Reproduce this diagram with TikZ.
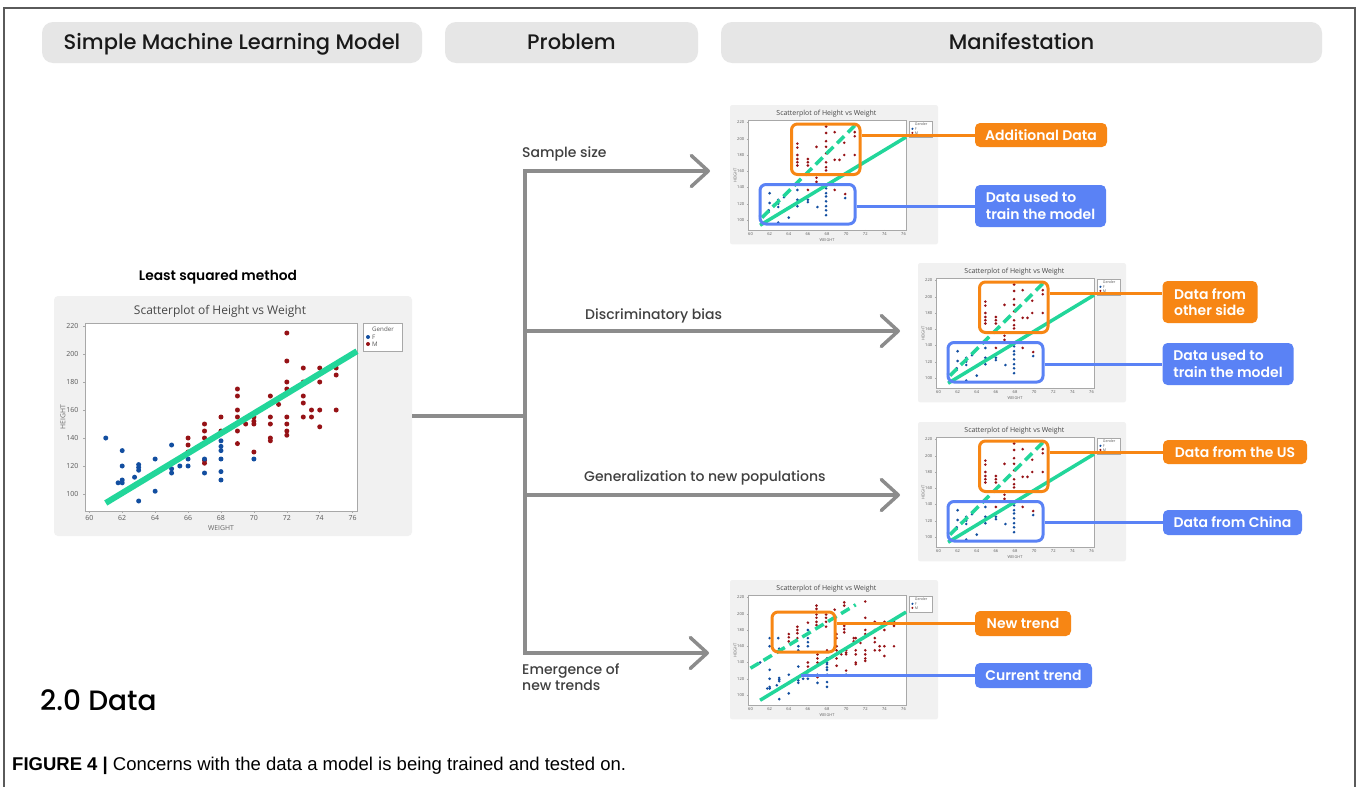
\documentclass[tikz,border=0pt]{standalone}
\usepackage{fontspec}
\usetikzlibrary{arrows.meta}
\setmainfont{Poppins}
\IfFontExistsTF{Poppins Medium}{\newfontfamily\medfont{Poppins Medium}}{\newfontfamily\medfont{Poppins}}
\IfFontExistsTF{Poppins SemiBold}{\newfontfamily\semifont{Poppins SemiBold}}{\newcommand\semifont{\bfseries}}
\newfontfamily\plotfont{Open Sans}
\newfontfamily\capfont{Liberation Sans}

\definecolor{hdrgray}{HTML}{E6E6E6}
\definecolor{framegray}{HTML}{5A5A5A}
\definecolor{conngray}{HTML}{8C8C8C}
\definecolor{fitgreen}{RGB}{34,214,154}
\definecolor{fblue}{RGB}{18,78,160}
\definecolor{mred}{RGB}{150,18,22}
\definecolor{hlorange}{RGB}{247,134,20}
\definecolor{hlblue}{RGB}{90,130,245}
\definecolor{panelgray}{HTML}{F1F1F1}
\definecolor{axisgray}{HTML}{A8A8A8}
\definecolor{txtgray}{HTML}{404040}

\tikzset{
  hdr/.style={fill=hdrgray, rounded corners=11pt, inner sep=0pt, text=black!90,
    text height=15.5pt, text depth=1pt,
    font=\medfont\fontsize{21}{24}\selectfont},
  probtxt/.style={text=txtgray, font=\medfont\fontsize{14}{16.5}\selectfont, inner sep=0pt},
  conn/.style={draw=conngray, line width=3.5pt},
  chev/.tip={Straight Barb[length=17pt, width=31pt, round]},
  olab/.style={fill=hlorange, rounded corners=5pt, text=white, inner sep=0pt, align=left,
    font=\semifont\fontsize{14}{16.5}\selectfont},
  blab/.style={olab, fill=hlblue},
  ohl/.style={draw=hlorange, line width=3pt, rounded corners=6pt, inner sep=0pt},
  bhl/.style={draw=hlblue, line width=3pt, rounded corners=6pt, inner sep=0pt},
  oline/.style={draw=hlorange, line width=3pt},
  bline/.style={draw=hlblue, line width=3pt},
  plottitle/.style={text=black!72, inner sep=0pt, font=\plotfont\fontsize{12}{14}\selectfont},
  axlab/.style={text=black!60, inner sep=0pt, font=\plotfont\fontsize{6.8}{8}\selectfont},
  ticklab/.style={text=black!65, inner sep=0pt, font=\plotfont\fontsize{7}{8}\selectfont},
  leglab/.style={text=black!65, inner sep=0pt, font=\plotfont\fontsize{6.2}{7}\selectfont},
  fitline/.style={draw=fitgreen, line width=6pt},
  dashfit/.style={fitline, dash pattern=on 17pt off 9pt},
}

% Data sets (weight/height)
\def\bluemain{61/140, 61.75/108, 62/131, 62/120, 62/110, 62/108, 62.75/112, 63/121, 63/119,
  63/117, 63/95, 64/125, 64/102, 65/135, 65/122, 65/118, 65/115, 65.5/120, 66/125, 66/120,
  67/125, 67/115, 68/138, 68/134, 68/131, 68/125, 68/116, 68/110, 70/125}
\def\redmain{66/140, 66/135, 66/130, 67/150, 67/145, 67/140, 67/124, 67/122, 68/155, 68/145,
  69/175, 69/170, 69/160, 69/155, 69/145, 69/136, 69.5/150, 70/155, 70/152, 70/150, 70/130,
  71/170, 71/155, 71/150, 71/140, 71/138, 71.5/164, 72/215, 72/195, 72/180, 72/175, 72/155,
  72/150, 72/145, 72/142, 73/190, 73/180, 73/170, 73/165, 73/155, 73.5/160, 73.5/155,
  74/190, 74/180, 74/160, 74/148, 75/190, 75/185, 75/160}
\def\blueA{61/105, 61.9/112, 61.9/110, 62/133, 62/121, 62.9/125, 62.9/120, 62.9/116, 62.9/97,
  64/103, 64.9/137, 64.9/125, 64.9/117, 66/125, 66/122, 67/116, 67.9/139, 67.9/133, 67.9/129,
  67.9/123, 67.9/117, 67.9/112, 67.9/106, 69.9/127, 63.5/128}
\def\redA{64.9/194, 64.9/189, 64.9/180, 64.9/175, 64.9/171, 64.9/167, 66/175, 66/171, 66/167,
  66.9/190, 66.9/152, 66.9/147, 66/137, 67.9/215, 67.9/207, 67.9/197, 67.9/190, 67.9/182,
  67.9/171, 67.9/165, 67.9/161, 68.8/208, 68.8/174, 68.8/137, 69.3/174, 69.8/180, 69.8/195,
  70.9/208, 70.9/203, 70.9/180, 69.9/132}
\edef\blueB{\bluemain, 62/170, 62/160, 62.9/170, 63/157, 65/160, 65/155, 66/180, 66/175,
  66/170, 66/165, 66/160, 68/145, 68/140}
\edef\redB{\redmain, 64/175, 64/171, 64/166, 64.9/184, 64.9/180, 64.9/176, 64.9/170, 66/189,
  66.9/210, 66.9/206, 66.9/202, 66.9/199, 66.9/195, 66.9/190, 66.9/186, 67.9/199, 67.9/195,
  67.9/190, 67.9/184, 68.8/205, 69.8/214, 69.8/210, 69.8/185, 69.8/181, 69.8/177, 70.8/170,
  70.8/166}

% Scatterplot panel, 358 x 240, drawn from its top-left corner.
% #1 blue points, #2 red points, #3 extra drawing in data coordinates
\newcommand\hwplot[3]{%
  \fill[panelgray, rounded corners=4pt] (0,0) rectangle (358,240);
  \fill[white] (31,27) rectangle (303,215);
  \draw[axisgray, line width=0.7pt] (31,27) rectangle (303,215);
  \node[plottitle] (title) at (166,15) {Scatterplot of Height vs Weight};
  \node[axlab] (wlab) at (167,232) {WEIGHT};
  \node[axlab, rotate=90] (hlab) at (9,121) {HEIGHT};
  \fill[white] (309,27) rectangle (348,55);
  \draw[axisgray, line width=0.5pt] (309,27) rectangle (348,55);
  \node[leglab, anchor=west] (gender) at (318,33) {Gender};
  \fill[fblue] (314,41) circle[radius=2pt];
  \node[leglab, anchor=west] (legf) at (318,41) {F};
  \fill[mred] (314,48) circle[radius=2pt];
  \node[leglab, anchor=west] (legm) at (318,48) {M};
  \begin{scope}[shift={(-952.3,338)}, x=16.46pt, y=1.4pt]
    \foreach \t in {60,62,...,76}{
      \draw[axisgray, line width=0.5pt] (\t,87.9) -- ++(0pt,-2.5pt);
      \node[ticklab] (xt\t) at (\t,83.2) {\t};}
    \foreach \t in {100,120,...,220}{
      \draw[axisgray, line width=0.5pt] (59.74,\t) -- ++(-2.5pt,0pt);
      \node[ticklab, anchor=east] (yt\t) at (59.35,\t) {\t};}
    \foreach \w/\h in #2 {\fill[mred] (\w,\h) circle[radius=2.5pt];}
    \foreach \w/\h in #1 {\fill[fblue] (\w,\h) circle[radius=2.5pt];}
    \draw[fitline] (61,93.6) -- (76.26,202);
    #3
  \end{scope}
}

\begin{document}
\begin{tikzpicture}[x=1pt, y=-1pt]
\useasboundingbox (0,0) rectangle (1358,787);
\fill[white] (0,0) rectangle (1358,787);

% outer frame
\draw[framegray, line width=1.5pt] (4,790) -- (4,8) -- (1355,8) -- (1355,790);

% column headers
\node[hdr, minimum width=380pt, minimum height=41pt] (h1) at (232,42.5) {Simple Machine Learning Model};
\node[hdr, minimum width=253pt, minimum height=41pt] (h2) at (571.5,42.5) {Problem};
\node[hdr, minimum width=601pt, minimum height=41pt] (h3) at (1021.5,42.5) {Manifestation};

% model panel
\node[font=\semifont\fontsize{13.8}{16}\selectfont, inner sep=0pt] (lsm) at (218,277) {Least squared method};
\begin{scope}[shift={(54,296)}, name prefix=main-]
  \hwplot{\bluemain}{\redmain}{}
\end{scope}
\node[minimum width=358pt, minimum height=240pt, inner sep=0pt] (mainpanel) at (233,416) {};

% thumbnails
\begin{scope}[transform canvas={shift={(730,105)}, scale=0.581}, name prefix=t1-]
  \hwplot{\blueA}{\redA}{\draw[dashfit] (61.2,103) -- (70.9,216);}
\end{scope}
\begin{scope}[transform canvas={shift={(918,263)}, scale=0.581}, name prefix=t2-]
  \hwplot{\blueA}{\redA}{\draw[dashfit] (61.2,103) -- (70.9,216);}
\end{scope}
\begin{scope}[transform canvas={shift={(918,422)}, scale=0.581}, name prefix=t3-]
  \hwplot{\blueA}{\redA}{\draw[dashfit] (61.2,103) -- (70.9,216);}
\end{scope}
\begin{scope}[transform canvas={shift={(730,580)}, scale=0.581}, name prefix=t4-]
  \hwplot{\blueB}{\redB}{\draw[dashfit] (60,133) -- (71,211);}
\end{scope}

% branch points of the connector tree
\coordinate (jn) at (525,416);
\coordinate (b1) at (525,171);  \coordinate (tip1) at (710,171);
\coordinate (b2) at (525,331);  \coordinate (tip2) at (900,331);
\coordinate (b3) at (525,495);  \coordinate (tip3) at (900,495);
\coordinate (b4) at (525,653);  \coordinate (tip4) at (709,653);

\draw[conn] (mainpanel.east) -- (jn);
\draw[conn, chev-chev] (tip1) -- (b1) -- (b4) -- (tip4);
\draw[conn, -chev] (b2) -- (tip2);
\draw[conn, -chev] (b3) -- (tip3);

\node[probtxt, anchor=west] (p1) at (522,154) {Sample size};
\node[probtxt, anchor=west] (p2) at (585,316) {Discriminatory bias};
\node[probtxt, anchor=west] (p3) at (584,478) {Generalization to new populations};
\node[probtxt, anchor=north west, align=left] (p4) at (522,663) {Emergence of\\new trends};

% highlight boxes
\node[ohl, minimum width=68.5pt, minimum height=50.5pt] (h1o) at (825.75,149.25) {};
\node[bhl, minimum width=95pt, minimum height=39.5pt] (h1b) at (807.5,204.25) {};
\node[ohl, minimum width=68.5pt, minimum height=50.5pt] (h2o) at (1013.75,307.25) {};
\node[bhl, minimum width=95pt, minimum height=39.5pt] (h2b) at (995.5,362.25) {};
\node[ohl, minimum width=68.5pt, minimum height=50.5pt] (h3o) at (1013.75,466.25) {};
\node[bhl, minimum width=95pt, minimum height=39.5pt] (h3b) at (995.5,521.25) {};
\node[ohl, minimum width=63pt, minimum height=40pt] (h4o) at (803.5,632) {};

% labels
\node[olab, minimum width=132pt, minimum height=24pt] (l1o) at (1041,135) {Additional Data};
\node[blab, minimum width=131pt, minimum height=42pt] (l1b) at (1040.5,206) {Data used to\\train the model};
\node[olab, minimum width=95pt, minimum height=42pt] (l2o) at (1210,302) {Data from\\other side};
\node[blab, minimum width=131pt, minimum height=42pt] (l2b) at (1228,364) {Data used to\\train the model};
\node[olab, minimum width=144pt, minimum height=24pt] (l3o) at (1235,452) {Data from the US};
\node[blab, minimum width=139pt, minimum height=25pt] (l3b) at (1232.5,522.5) {Data from China};
\node[olab, minimum width=96pt, minimum height=25pt] (l4o) at (1023,623.5) {New trend};
\node[blab, minimum width=117pt, minimum height=25pt] (l4b) at (1033.5,675.5) {Current trend};

% leader lines
\coordinate (l2o-in) at ([yshift=9pt]l2o.west);
\coordinate (ct4) at (801,675.5);
\draw[oline] (h1o.east |- l1o.west) -- (l1o.west);
\draw[bline] (h1b.east |- l1b.west) -- (l1b.west);
\draw[oline] (h2o.east |- l2o-in) -- (l2o-in);
\draw[bline] (h2b.east |- l2b.west) -- (l2b.west);
\draw[oline] (h3o.east |- l3o.west) -- (l3o.west);
\draw[bline] (h3b.east |- l3b.west) -- (l3b.west);
\draw[oline] (h4o.east |- l4o.west) -- (l4o.west);
\draw[bline] (ct4) -- (l4b.west);

% section title and caption
\node[anchor=west, inner sep=0pt, font=\medfont\fontsize{28}{31}\selectfont] (sect) at (40,700) {2.0 Data};
\node[anchor=west, inner sep=0pt, font=\capfont\fontsize{18.5}{21}\selectfont] (cap) at (12,766)
  {\textbf{FIGURE 4 |} Concerns with the data a model is being trained and tested on.};
\end{tikzpicture}
\end{document}
